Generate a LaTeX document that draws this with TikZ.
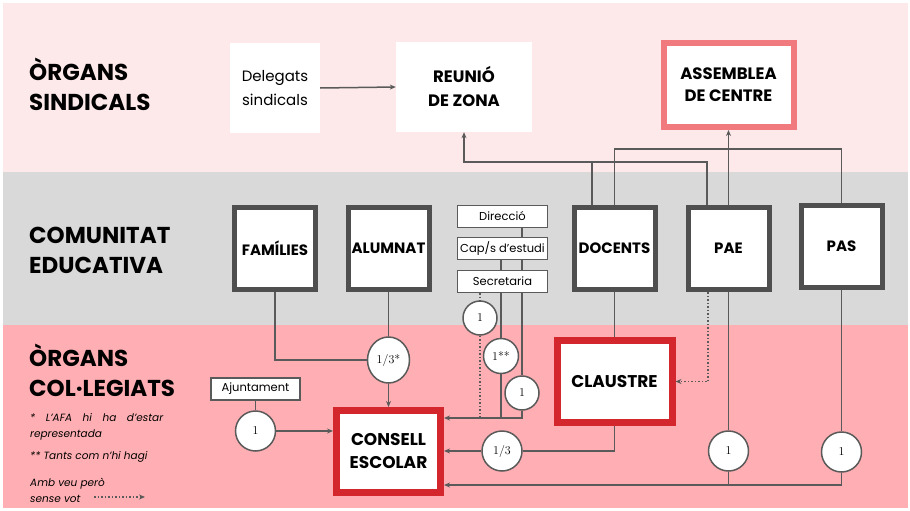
\documentclass[tikz,border=0pt]{standalone}
\usepackage{fontspec}
\setsansfont{Poppins}
\usetikzlibrary{arrows.meta,calc,shapes.geometric}
\definecolor{bgtop}{HTML}{FDE9E9}
\definecolor{bggrey}{HTML}{D9D9D9}
\definecolor{bgbot}{HTML}{FFAFB3}
\definecolor{salmon}{HTML}{F07A7E}
\definecolor{redb}{HTML}{D3262D}
\definecolor{darkb}{HTML}{4F4F4F}
\definecolor{ln}{HTML}{5A5A5A}
\begin{document}
\begin{tikzpicture}[x=1pt,y=-1pt,
  head/.style={font=\sffamily\bfseries\fontsize{23}{30}\selectfont, align=left, inner sep=0, anchor=west},
  plainbox/.style={fill=white, inner sep=0, align=center, font=\sffamily\fontsize{15}{24}\selectfont},
  boldlbl/.style={font=\sffamily\bfseries\fontsize{15}{23}\selectfont},
  bigbox/.style={draw=darkb, line width=5pt, fill=white, minimum width=81pt, minimum height=82pt, inner sep=0, align=center, boldlbl},
  smallbox/.style={draw=ln, line width=1.2pt, fill=white, minimum width=90pt, minimum height=22pt, inner sep=0, font=\sffamily\fontsize{11.5}{12}\selectfont},
  redbox/.style={draw=redb, line width=7pt, fill=white, inner sep=0, align=center, font=\sffamily\bfseries\fontsize{17}{23}\selectfont},
  circ/.style={circle, draw=ln, line width=1.5pt, fill=white, inner sep=0, font=\rmfamily\fontsize{12}{12}\selectfont},
  conn/.style={draw=ln, line width=1.5pt},
  arr/.style={conn, -{Stealth[length=6pt,width=5pt]}},
  dotconn/.style={conn, dotted},
  dotarr/.style={conn, dotted, -{Stealth[length=6pt,width=5pt]}},
  foot/.style={font=\sffamily\itshape\fontsize{10.5}{15}\selectfont, inner sep=0, anchor=base west}
]
\useasboundingbox (0,0) rectangle (910,511);
\fill[white] (0,0) rectangle (910,511);
\fill[bgtop] (3,3) rectangle (908,172);
\fill[bggrey] (3,172) rectangle (908,325);
\fill[bgbot] (3,325) rectangle (908,508);

% headings
\node[head] (hsind) at (29,84) {ÒRGANS\\SINDICALS};
\node[head] (hcom) at (29,250) {COMUNITAT\\EDUCATIVA};
\node[head] (hcol) at (29,370) {ÒRGANS\\COL·LEGIATS};

% top band
\node[plainbox, minimum width=90pt, minimum height=90pt] (dele) at (275,88) {Delegats\\sindicals};
\node[plainbox, minimum width=136pt, minimum height=90pt, font=\sffamily\bfseries\fontsize{16.5}{24}\selectfont] (reunio) at (464,87) {REUNIÓ\\DE ZONA};
\node[draw=salmon, line width=6pt, fill=white, minimum width=130pt, minimum height=84pt, inner sep=0, align=center, font=\sffamily\bfseries\fontsize{16.5}{22}\selectfont] (assem) at (728.5,85) {ASSEMBLEA\\DE CENTRE};

% middle band
\node[bigbox] (fam) at (275,248.5) {FAMÍLIES};
\node[bigbox] (alum) at (388.5,248.5) {ALUMNAT};
\node[smallbox] (dir) at (502.5,216.5) {Direcció};
\node[smallbox] (cap) at (502.5,248.5) {Cap/s d'estudi};
\node[smallbox] (sec) at (502.5,281.5) {Secretaria};
\node[bigbox] (doc) at (614.5,248.5) {DOCENTS};
\node[bigbox] (pae) at (728.5,248.5) {PAE};
\node[bigbox] (pas) at (841.5,246.5) {PAS};

% bottom band
\node[redbox, minimum width=115pt, minimum height=82pt] (claus) at (614.5,381.5) {CLAUSTRE};
\node[redbox, minimum width=104pt, minimum height=82pt] (conse) at (388.5,451.5) {CONSELL\\ESCOLAR};
\node[smallbox, minimum width=89pt] (ajun) at (255.5,389) {Ajuntament};

\node[circ, minimum size=40pt] (c1aj) at (255.5,431) {1};
\node[circ, ellipse, minimum width=42pt, minimum height=46pt] (c13a) at (388.5,360) {1/3*};
\node[circ, minimum size=34pt] (csec) at (480,318) {1};
\node[circ, minimum size=35pt] (c1ss) at (501,356) {1**};
\node[circ, minimum size=34pt] (c1d) at (522,393) {1};
\node[circ, minimum size=40pt] (c13) at (502,451) {1/3};
\node[circ, minimum size=40pt] (cpae) at (728.5,451) {1};
\node[circ, minimum size=40pt] (cpas) at (841.5,452) {1};

% helper coordinates
\coordinate (h1) at (0,162);
\coordinate (h2) at (0,149);
\coordinate (xa) at (592,0);
\coordinate (xp) at (707,0);
\coordinate (xd) at (708,0);
\coordinate (y1) at (0,418);
\coordinate (y2) at (0,485);

% top connectors
\draw[arr] (dele.east) -- (reunio.west);
\draw[arr] (pae.north -| xp) |- (h1 -| reunio.south) -- (reunio.south);
\draw[conn] (doc.north -| xa) -- (xa |- h1);
\draw[conn] (doc.north) |- (h2 -| pas.north) -- (pas.north);
\draw[arr] (pae.north) -- (assem.south);

% middle/bottom connectors
\draw[conn] (fam.south) |- (c13a.west);
\draw[conn] (alum.south) -- (c13a.north);
\draw[arr] (c13a.south) -- (conse.north);
\draw[conn] (ajun.south) -- (c1aj.north);
\draw[arr] (c1aj.east) -- (c1aj.east -| conse.west);

\draw[conn] (dir.south -| c1d) -- (cap.north -| c1d);
\draw[conn] (cap.south -| c1d) -- (sec.north -| c1d);
\draw[conn] (sec.south -| c1d) -- (c1d.north);
\draw[conn] (cap.south -| c1ss) -- (sec.north -| c1ss);
\draw[conn] (sec.south -| c1ss) -- (c1ss.north);
\draw[conn] (c1ss.south) -- (c1ss |- y1);
\draw[dotconn] (sec.south -| csec) -- (csec.north);
\draw[dotconn] (csec.south) -- (csec |- y1);
\draw[arr] (c1d.south) |- (conse.east |- y1);

\draw[conn] (doc.south) -- (claus.north);
\draw[conn] (claus.south) |- (c13.east);
\draw[arr] (c13.west) -- (c13.west -| conse.east);
\draw[dotarr] (pae.south -| xd) |- (claus.east);

\draw[conn] (pae.south) -- (cpae.north);
\draw[conn] (pas.south) -- (cpas.north);
\draw[conn] (cpae.south) -- (cpae |- y2);
\draw[arr] (cpas.south) |- (conse.east |- y2);

% footnotes
\node[foot] (f1) at (30,421) {\makebox[133pt][s]{* L'AFA hi ha d'estar}};
\node[foot] (f2) at (30,437) {representada};
\node[foot] (f3) at (30,459) {** Tants com n'hi hagi};
\node[foot] (f4) at (30,486) {Amb veu però};
\node[foot] (f5) at (30,502) {sense vot};
\coordinate (la) at (94,497);
\coordinate (lb) at (145,497);
\draw[dotarr, line width=1.2pt] (la) -- (lb);
\end{tikzpicture}
\end{document}
